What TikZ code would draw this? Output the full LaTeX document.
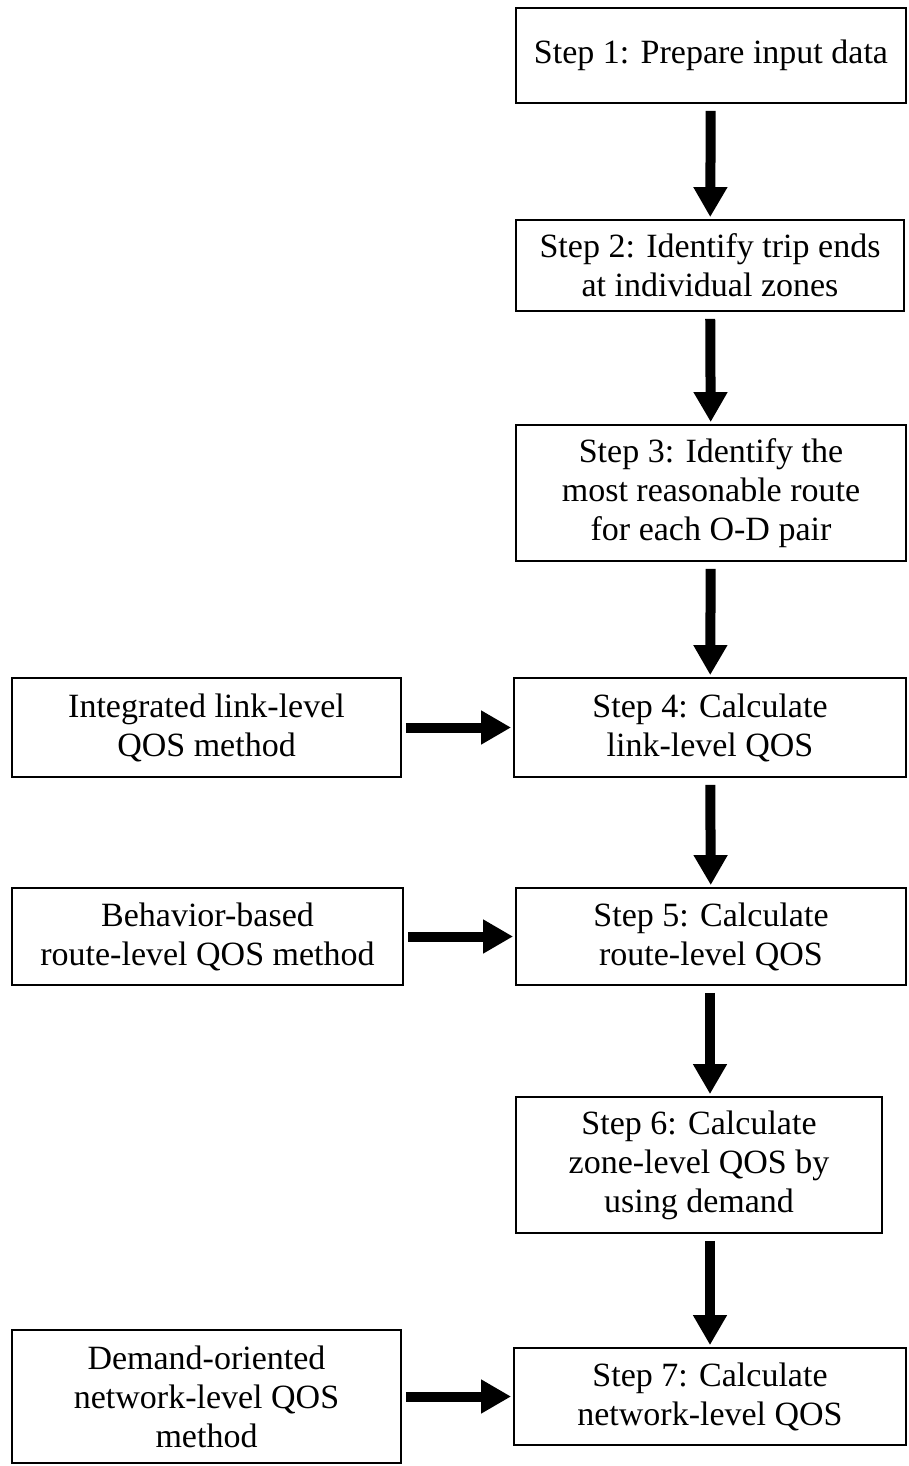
\documentclass[tikz,border=0pt]{standalone}
\usepackage{fontspec}
\setmainfont{Liberation Serif}
\usetikzlibrary{arrows.meta}
\begin{document}
\begin{tikzpicture}[x=0.5pt,y=-0.5pt,
	box/.style={draw,line width=0.9pt,inner sep=0pt,align=center,
		font=\fontsize{17}{19.5}\selectfont},
	flow/.style={line width=5pt,-{Triangle[width=16pt,length=15pt]},shorten <=3.5pt,shorten >=1pt}]
	\useasboundingbox (0,0) rectangle (909,1466);
	\node[box,minimum width=195pt,minimum height=47.5pt] (s1) at (711,55.5) {Step 1: Prepare input data};
	\node[box,minimum width=194pt,minimum height=45.5pt] (s2) at (710,265.5) {Step 2: Identify trip ends\\at individual zones};
	\node[box,minimum width=195pt,minimum height=68pt] (s3) at (711,493) {Step 3: Identify the\\most reasonable route\\for each O-D pair};
	\node[box,minimum width=196pt,minimum height=49.5pt] (s4) at (710,727.5) {Step 4: Calculate\\link-level QOS};
	\node[box,minimum width=194.5pt,minimum height=49.5pt] (m4) at (206.5,727.5) {Integrated link-level\\QOS method};
	\node[box,minimum width=195pt,minimum height=48.5pt] (s5) at (711,936.5) {Step 5: Calculate\\route-level QOS};
	\node[box,minimum width=195.5pt,minimum height=48.5pt] (m5) at (207.5,936.5) {Behavior-based\\route-level QOS method};
	\node[box,minimum width=183pt,minimum height=68pt] (s6) at (699,1165) {Step 6: Calculate\\zone-level QOS by\\using demand};
	\node[box,minimum width=196pt,minimum height=48.5pt] (s7) at (710,1396.5) {Step 7: Calculate\\network-level QOS};
	\node[box,minimum width=194.5pt,minimum height=66.5pt] (m7) at (206.5,1396.5) {Demand-oriented\\network-level QOS\\method};
	% main sequence
	\draw[flow] (s1) -- (s2);
	\draw[flow] (s2) -- (s3);
	\draw[flow] (s3) -- (s4);
	\draw[flow] (s4) -- (s5);
	\draw[flow] (s5.south -| s4) -- (s6.north -| s4);
	\draw[flow] (s6.south -| s4) -- (s7);
	% methods
	\draw[flow,shorten <=2pt] (m4) -- (s4);
	\draw[flow,shorten <=2pt] (m5) -- (s5);
	\draw[flow,shorten <=2pt] (m7) -- (s7);
\end{tikzpicture}
\end{document}
